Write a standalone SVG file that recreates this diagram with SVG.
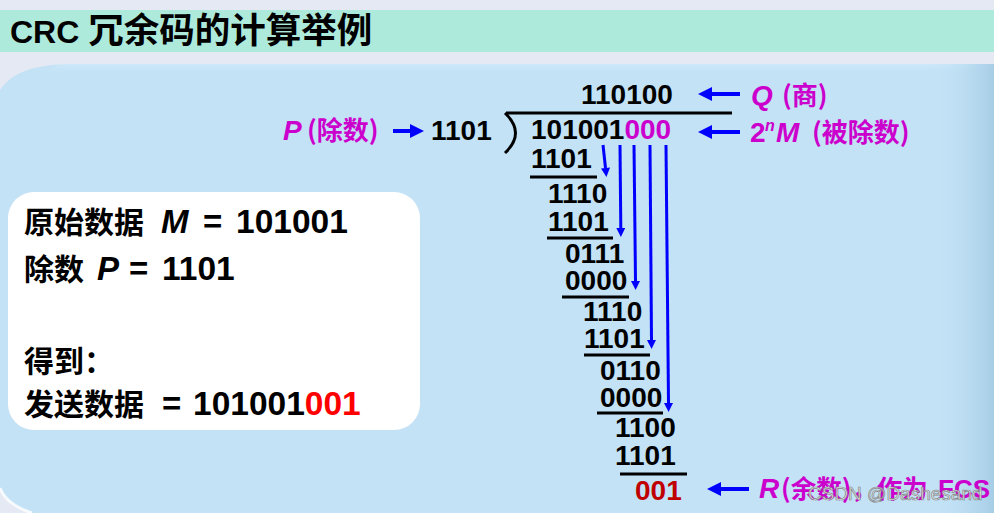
<svg xmlns="http://www.w3.org/2000/svg" width="994" height="513" viewBox="0 0 994 513">
  <defs>
    <linearGradient id="rightShade" x1="0" y1="0" x2="1" y2="0">
      <stop offset="0" stop-color="#c3e2f6" stop-opacity="0"/>
      <stop offset="1" stop-color="#9fc8e2" stop-opacity="0.8"/>
    </linearGradient>
    <linearGradient id="topShine" x1="0" y1="0" x2="0" y2="1">
      <stop offset="0" stop-color="#d2ecfb"/>
      <stop offset="1" stop-color="#c3e2f6"/>
    </linearGradient>
    <marker id="ahS" viewBox="0 0 10 10" refX="0" refY="5" markerWidth="12" markerHeight="9" orient="auto" markerUnits="userSpaceOnUse">
      <path d="M0,0 L10,5 L0,10 z" fill="#0000ff"/>
    </marker>
    <marker id="ahL" viewBox="0 0 10 10" refX="0" refY="5" markerWidth="15" markerHeight="14" orient="auto" markerUnits="userSpaceOnUse">
      <path d="M0,0 L10,5 L0,10 z" fill="#0000ff"/>
    </marker>
  </defs>
  <style>
    text { font-family: "Liberation Sans", "Noto Sans CJK SC", sans-serif; font-weight: bold; }
    .cjk { font-family: "Noto Sans CJK SC", "Liberation Sans", sans-serif; }
    .it { font-style: italic; }
    .mag { fill: #cc00cc; }
    .blk { fill: #000000; }
    .red { fill: #ff0000; }
    .dred { fill: #c00000; }
    .div { font-size: 28px; }
    .rule { stroke: #000000; stroke-width: 3; }
    .arr { stroke: #0000ff; fill: none; }
    .v { stroke-width: 3; marker-end: url(#ahS); }
    .h { stroke-width: 4; marker-end: url(#ahL); }
  </style>

  <!-- background -->
  <rect x="0" y="0" width="994" height="513" fill="#e5e9f4"/>
  <rect x="0" y="10" width="994" height="42" fill="#aeeadb"/>
  <path d="M0,90 C12,72 35,64 75,64 L994,64 L994,513 L32,513 C14,507 4,499 0,488 Z" fill="#c3e2f6"/>
  <path d="M60,64 L994,64 L994,72 L45,72 Z" fill="url(#topShine)" opacity="0.6"/>
  <rect x="930" y="64" width="64" height="449" fill="url(#rightShade)"/>
  <path d="M0,488 C4,499 14,507 32,513" fill="none" stroke="#ffffff" stroke-width="3" opacity="0.8"/>

  <!-- title -->
  <g id="title">
    <text x="10" y="43" font-size="32">CRC <tspan class="cjk" font-size="35.5">冗余码的计算举例</tspan></text>
  </g>

  <!-- info box -->
  <g id="info">
    <rect x="8" y="192" width="412" height="238" rx="26" ry="26" fill="#ffffff"/>
    <text y="233"><tspan class="cjk" x="24" font-size="30">原始数据</tspan><tspan class="it" x="161" font-size="33">M</tspan><tspan x="203" font-size="33">=</tspan><tspan x="236" font-size="33.5">101001</tspan></text>
    <text y="280"><tspan class="cjk" x="24" font-size="30">除数</tspan><tspan class="it" x="97" font-size="33">P</tspan><tspan x="129" font-size="33">=</tspan><tspan x="162" font-size="33.5">1101</tspan></text>
    <text y="372"><tspan class="cjk" x="24" font-size="30">得到：</tspan></text>
    <text y="415"><tspan class="cjk" x="24" font-size="30">发送数据</tspan><tspan x="162" font-size="33">=</tspan><tspan x="193" font-size="33.5">101001<tspan class="red">001</tspan></tspan></text>
  </g>

  <!-- divisor label -->
  <g id="divisor">
    <text class="div mag" y="140"><tspan class="it" x="283">P</tspan><tspan class="cjk" x="307" font-size="26">(除数)</tspan></text>
    <text class="div blk" x="431" y="140">1101</text>
  </g>

  <!-- quotient label -->
  <g id="quotient">
    <text class="div blk" x="581" y="104">110100</text>
    <text class="div mag" y="105"><tspan class="it" x="751">Q</tspan><tspan class="cjk" x="782" font-size="26">(商)</tspan></text>
  </g>

  <!-- dividend label -->
  <g id="dividend">
    <text class="div blk" x="531" y="139">101001<tspan class="mag">000</tspan></text>
    <text class="div mag" y="142"><tspan x="750">2</tspan><tspan class="it" x="765" y="131" font-size="16">n</tspan><tspan class="it" x="776" y="142">M</tspan><tspan class="cjk" x="812" font-size="26">(被除数)</tspan></text>
  </g>

  <!-- long division body -->
  <g id="division">
    <path d="M506,113 L732,113" class="rule"/>
    <path d="M505,113 Q526,133 505,153" fill="none" stroke="#000" stroke-width="3"/>
    <text class="div blk" x="531" y="168">1101</text>
    <path d="M530,177 L597,177" class="rule"/>
    <text class="div blk" x="548" y="203">1110</text>
    <text class="div blk" x="548" y="231">1101</text>
    <path d="M547,238 L613,238" class="rule"/>
    <text class="div blk" x="565" y="263">0111</text>
    <text class="div blk" x="565" y="290">0000</text>
    <path d="M562,297 L629,297" class="rule"/>
    <text class="div blk" x="583" y="321">1110</text>
    <text class="div blk" x="584" y="348">1101</text>
    <path d="M584,355 L650,355" class="rule"/>
    <text class="div blk" x="600" y="380">0110</text>
    <text class="div blk" x="600" y="407">0000</text>
    <path d="M597,413 L663,413" class="rule"/>
    <text class="div blk" x="615" y="437">1100</text>
    <text class="div blk" x="615" y="465">1101</text>
    <path d="M620,474 L687,474" class="rule"/>
    <text class="div dred" x="635" y="500">001</text>
  </g>

  <!-- remainder label -->
  <g id="remainder">
    <text class="div mag" y="498"><tspan class="it" x="759">R</tspan><tspan class="cjk" x="781" font-size="25.5">(余数)，作为</tspan><tspan x="938" font-size="26">FCS</tspan></text>
  </g>

  <!-- connectors -->
  <g id="connectors">
    <path class="arr v" d="M603,145 L605.5,168"/>
    <path class="arr v" d="M620,145 L620.8,228"/>
    <path class="arr v" d="M634,145 L635.5,281"/>
    <path class="arr v" d="M650,145 L651.5,340"/>
    <path class="arr v" d="M666,145 L668.5,403"/>
    <path class="arr h" d="M740,94 L712,94"/>
    <path class="arr h" d="M740,132 L712,132"/>
    <path class="arr h" d="M393,131 L410,131"/>
    <path class="arr h" d="M749,489 L721,489"/>
  </g>

  <!-- watermark -->
  <g id="watermark">
    <text x="808" y="500" font-size="19" fill="#eeeeee" stroke="#7a7a7a" stroke-width="0.7" opacity="0.9" style="font-weight:normal">CSDN @Dashesand</text>
  </g>
</svg>
